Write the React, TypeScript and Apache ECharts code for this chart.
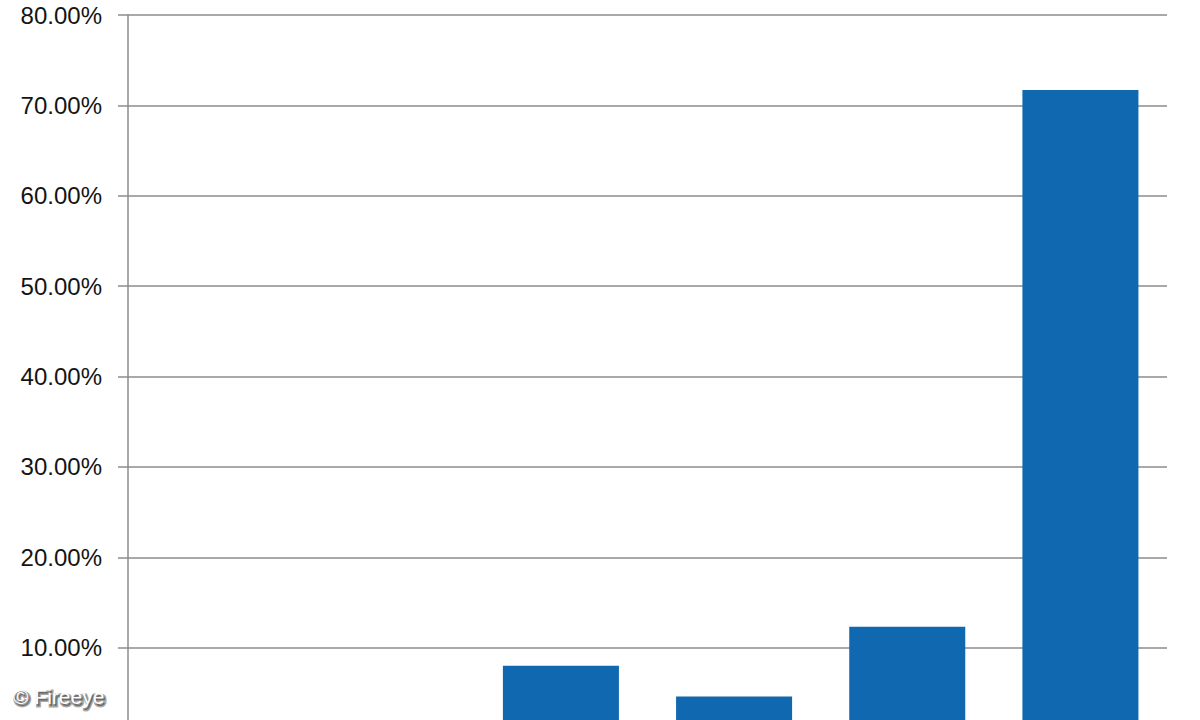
import { useEffect, useRef } from "react";
import * as echarts from "echarts";

// values in percent (first two slots are empty)
const categories = ["A", "B", "C", "D", "E", "F"];
const shares = [0, 0, 8.0, 4.6, 12.3, 71.7];
const yTicks = [0, 10, 20, 30, 40, 50, 60, 70, 80];

const barColor = "#1068b0";
const lineColor = "#8c8c8c";
const watermark = "© Fireeye";
const watermarkFont = "21px Liberation Sans, Arial, sans-serif";

const App = () => {
  const chartRef = useRef<HTMLDivElement | null>(null);

  useEffect(() => {
    if (!chartRef.current) {
      return;
    }
    const instance = echarts.init(chartRef.current, undefined, {
      renderer: "svg",
    });

    const option: echarts.EChartsOption = {
      animation: false,
      backgroundColor: "#ffffff",
      textStyle: {
        fontFamily: "Liberation Sans, Arial, sans-serif",
      },
      grid: {
        left: 128,
        right: 33,
        top: 15,
        bottom: 22,
        containLabel: false,
      },
      xAxis: {
        type: "category",
        data: categories,
        axisLine: { show: false },
        axisTick: { show: false },
        axisLabel: { show: false },
        splitLine: { show: false },
      },
      yAxis: {
        type: "value",
        min: yTicks[0],
        max: yTicks[yTicks.length - 1],
        interval: 10,
        axisLine: { show: true, lineStyle: { color: lineColor, width: 1.5 } },
        axisTick: { show: true, length: 10, lineStyle: { color: lineColor, width: 1.5 } },
        axisLabel: {
          color: "#141414",
          fontSize: 24,
          margin: 26,
          // the 0% row sits below the visible crop
          formatter: (value: number) => (value === 0 ? "" : `${value.toFixed(2)}%`),
        },
        splitLine: { show: true, lineStyle: { color: lineColor, width: 1.5 } },
      },
      series: [
        {
          type: "bar",
          data: shares,
          barCategoryGap: "33%",
          itemStyle: { color: barColor },
        },
      ],
      graphic: [
        {
          type: "text",
          left: 13,
          top: 686,
          z: 99,
          silent: true,
          style: {
            text: watermark,
            fill: "#6a6a6a",
            stroke: "rgba(80,80,80,0.5)",
            lineWidth: 3,
            font: watermarkFont,
          },
        },
        {
          type: "text",
          left: 13,
          top: 686,
          z: 100,
          silent: true,
          style: {
            text: watermark,
            fill: "#ffffff",
            font: watermarkFont,
          },
        },
      ],
    };

    instance.setOption(option, true);

    return () => {
      instance.dispose();
    };
  }, []);

  return (
    <div
      style={{
        position: "fixed",
        top: 0,
        left: 0,
        width: 1200,
        height: 720,
        overflow: "hidden",
        background: "#fff",
      }}
    >
      <div ref={chartRef} style={{ width: 1200, height: 760 }} />
    </div>
  );
};

export default App;
